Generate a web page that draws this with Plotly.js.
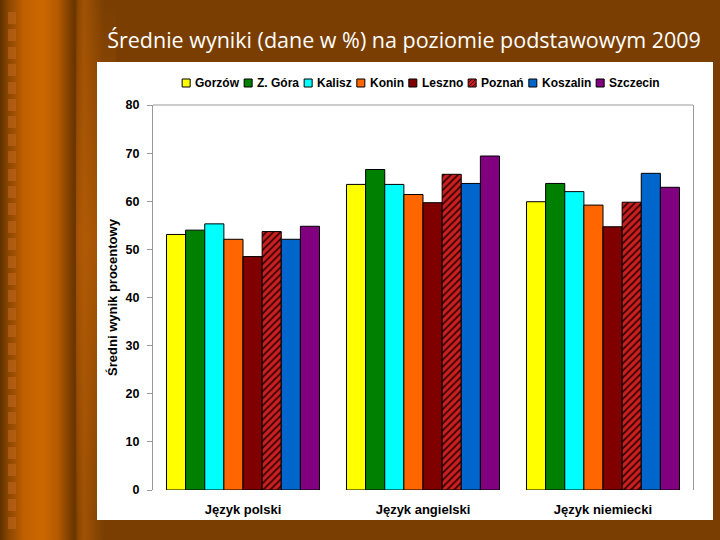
<!DOCTYPE html>
<html>
<head>
<meta charset="utf-8">
<script src="https://cdn.plot.ly/plotly-3.0.1.min.js"></script>
<style>
  html, body { margin: 0; padding: 0; }
  body { width: 720px; height: 540px; overflow: hidden; position: relative; background: #7a3e02; }
  #slide {
    position: absolute; left: 0; top: 0; width: 720px; height: 540px;
    background:
      linear-gradient(to right, #5e3000 0px, #8a4602 8px, #c06000 24px, #cc6800 42px, #b45a00 58px, #7c3e00 70px, #6a3400 75px, #8a4602 78px, #a05204 84px, #7a3e02 104px, #7a3e02 720px);
  }
  #glow {
    position: absolute; left: 76px; top: 0; width: 40px; height: 540px;
    background: linear-gradient(to bottom, rgba(122,62,2,0) 0px, rgba(190,96,6,0.55) 240px, rgba(190,96,6,0.35) 360px, rgba(122,62,2,0) 520px);
  }
  #studs {
    position: absolute; left: 8px; top: 12px; width: 8px; height: 520px;
    background: repeating-linear-gradient(to bottom, rgba(190,100,30,0.6) 0px, rgba(190,100,30,0.6) 12px, rgba(0,0,0,0) 12px, rgba(0,0,0,0) 17.4px);
  }
  #panel { position: absolute; left: 97px; top: 62px; width: 616px; height: 458px; background: #ffffff; }
  #chart { position: absolute; left: 0; top: 0; width: 720px; height: 540px; }
</style>
</head>
<body>
<div id="slide"></div>
<div id="glow"></div>
<div id="studs"></div>
<div id="panel"></div>
<div id="chart"></div>
<script>
// Subjects on the x axis
const categories = ['Język polski', 'Język angielski', 'Język niemiecki'];

// Average results (%) per city
const gorzow   = [53.1, 63.5, 59.9];
const zgora    = [54.0, 66.6, 63.7];
const kalisz   = [55.3, 63.5, 62.0];
const konin    = [52.1, 61.4, 59.2];
const leszno   = [48.5, 59.7, 54.7];
const poznan   = [53.7, 65.6, 59.8];
const koszalin = [52.1, 63.7, 65.8];
const szczecin = [54.8, 69.4, 62.9];

const cityNames = ['Gorzów', 'Z. Góra', 'Kalisz', 'Konin', 'Leszno', 'Poznań', 'Koszalin', 'Szczecin'];
const cityValues = [gorzow, zgora, kalisz, konin, leszno, poznan, koszalin, szczecin];
const cityColors = ['#ffff00', '#008000', '#00ffff', '#ff6600', '#800000', '#cc2020', '#0066cc', '#800080'];
const hatched = [false, false, false, false, false, true, false, false];

const FONT = 'Liberation Sans, Arial, sans-serif';

const traces = cityNames.map((name, i) => {
  const marker = { color: cityColors[i], line: { color: '#000000', width: 1 } };
  if (hatched[i]) {
    marker.pattern = { shape: '/', fgcolor: '#3a0000', bgcolor: cityColors[i], size: 5, solidity: 0.35 };
  }
  return { type: 'bar', name: name, x: categories, y: cityValues[i], marker: marker, showlegend: false };
});

// Plot-area geometry (pixels)
const W = 720, H = 540;
const M = { l: 153, r: 27, t: 105, b: 50 };
const plotW = W - M.l - M.r;
const plotH = H - M.t - M.b;

// Compact legend row built from the city names
const LEG_SIZE = 12;
const ctx = document.createElement('canvas').getContext('2d');
ctx.font = 'bold ' + LEG_SIZE + 'px Liberation Sans';
const box = 8, boxGap = 3, itemGap = 7;
const widths = cityNames.map(n => box + boxGap + ctx.measureText(n).width);
const total = widths.reduce((a, b) => a + b, 0) + itemGap * (cityNames.length - 1);
let cx = 420 - total / 2;
const legY = 83;
const shapes = [];
const annotations = [];
const px2x = px => (px - M.l) / plotW;
const px2y = py => (H - M.b - py) / plotH;
cityNames.forEach((name, i) => {
  shapes.push({
    type: 'rect', xref: 'paper', yref: 'paper',
    x0: px2x(cx), x1: px2x(cx + box), y0: px2y(legY + box / 2), y1: px2y(legY - box / 2),
    fillcolor: cityColors[i], line: { color: '#000000', width: 1 }
  });
  if (hatched[i]) {
    shapes.push({
      type: 'path', xref: 'paper', yref: 'paper',
      path: `M ${px2x(cx)} ${px2y(legY)} L ${px2x(cx + box / 2)} ${px2y(legY - box / 2)} ` +
            `M ${px2x(cx)} ${px2y(legY + box / 2)} L ${px2x(cx + box)} ${px2y(legY - box / 2)} ` +
            `M ${px2x(cx + box / 2)} ${px2y(legY + box / 2)} L ${px2x(cx + box)} ${px2y(legY)}`,
      line: { color: '#3a0000', width: 1 }
    });
  }
  annotations.push({
    xref: 'paper', yref: 'paper', x: px2x(cx + box + boxGap), y: px2y(legY),
    xanchor: 'left', yanchor: 'middle', showarrow: false, text: name,
    font: { family: FONT, size: LEG_SIZE, color: '#000000', weight: 'bold' }
  });
  cx += widths[i] + itemGap;
});

// Top edge of the plot frame
shapes.push({ type: 'line', xref: 'paper', yref: 'paper', x0: 0, x1: 1, y0: 1, y1: 1, line: { color: '#999999', width: 1 } });

const layout = {
  width: W, height: H,
  margin: M,
  paper_bgcolor: 'rgba(0,0,0,0)',
  plot_bgcolor: '#ffffff',
  barmode: 'group',
  bargap: 0.15,
  bargroupgap: 0,
  showlegend: false,
  title: {
    text: 'Średnie wyniki (dane w %) na poziomie podstawowym 2009',
    x: 404 / W, xanchor: 'center', y: 1 - 40 / H, yanchor: 'middle',
    font: { family: 'Open Sans, sans-serif', size: 21.5, color: '#ffffff' }
  },
  xaxis: {
    type: 'category',
    showline: false, showgrid: false, zeroline: false, ticks: '',
    ticklabelstandoff: 10,
    tickfont: { family: FONT, size: 13, color: '#000000', weight: 'bold' }
  },
  yaxis: {
    range: [0, 80], dtick: 10, tick0: 0,
    showgrid: false, zeroline: false,
    showline: true, mirror: true, linecolor: '#999999', linewidth: 1,
    ticks: 'outside', ticklen: 5, tickcolor: '#999999',
    ticklabelstandoff: 5,
    tickfont: { family: FONT, size: 12.5, color: '#000000', weight: 'bold' },
    title: { text: 'Średni wynik procentowy', standoff: 5,
             font: { family: FONT, size: 13, color: '#000000', weight: 'bold' } }
  },
  shapes: shapes,
  annotations: annotations
};

Plotly.newPlot('chart', traces, layout, { staticPlot: true, displayModeBar: false });
</script>
</body>
</html>
